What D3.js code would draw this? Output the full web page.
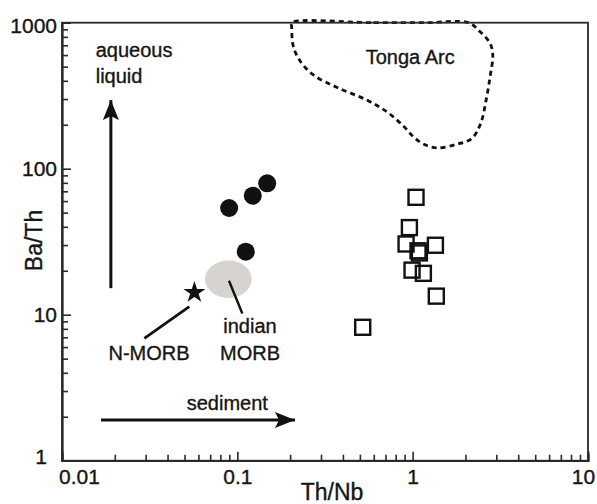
<!DOCTYPE html>
<html>
<head>
<meta charset="utf-8">
<script src="https://cdn.jsdelivr.net/npm/d3@7"></script>
<style>
  html, body { margin: 0; padding: 0; background: #fff; }
  svg { display: block; font-family: "Liberation Sans", Arial, Helvetica, sans-serif; }
  svg text { stroke: #151515; stroke-width: 0.35px; }
</style>
</head>
<body>
<svg id="chart" width="597" height="504"></svg>
<script>
// ---------- data ----------
const xTickValues = [0.01, 0.1, 1, 10];
const xTickLabels = ["0.01", "0.1", "1", "10"];
const yTickValues = [1, 10, 100, 1000];
const yTickLabels = ["1", "10", "100", "1000"];

// filled circles (samples)
const circleThNb = [0.0898, 0.1225, 0.148, 0.1117];
const circleBaTh = [53.8, 65.3, 79.4, 27.0];

// open squares (samples)
const squareThNb = [1.045, 0.958, 0.917, 1.073, 1.092, 1.348, 0.992, 1.151, 1.364, 0.519];
const squareBaTh = [63.7, 39.5, 30.5, 27.4, 26.5, 29.9, 20.2, 19.2, 13.4, 8.2];

// N-MORB star and Indian MORB field centre
const nMorb = { thNb: 0.0569, baTh: 14.2 };
const indianMorb = { thNb: 0.0889, baTh: 17.5 };

// Tonga Arc field outline
const tongaThNb = [0.204, 0.6, 1.2, 2.078, 2.424, 2.764, 2.864, 2.764, 2.623, 2.446, 2.173, 1.785, 1.373, 1.151, 1.009, 0.885, 0.7115, 0.547, 0.369, 0.2714, 0.228, 0.2087, 0.204];
const tongaBaTh = [1000, 1000, 1000, 1000, 867, 722, 601, 426, 295, 205, 161, 147, 139, 147.5, 165.6, 196, 245.7, 295.4, 361, 438.5, 547, 685, 939];

// ---------- layout ----------
const svg = d3.select("#chart");
const pLeft = 62, pRight = 588, pTop = 22.7, pBottom = 460.7;

const x = d3.scaleLog().domain([0.01, 10]).range([pLeft, pRight]);
const y = d3.scaleLog().domain([1, 1000]).range([pBottom, pTop]);

const axisColor = "#2a2a2a";
const textColor = "#151515";

// ---------- Tonga Arc field ----------
const tongaPts = tongaThNb.map((v, i) => [x(v), y(tongaBaTh[i])]);
svg.append("path")
  .attr("d", d3.line().curve(d3.curveCatmullRomClosed.alpha(0.5))(tongaPts))
  .attr("fill", "none")
  .attr("stroke", "#111")
  .attr("stroke-width", 2.8)
  .attr("stroke-dasharray", "5,4");

// ---------- frame ----------
svg.append("rect")
  .attr("x", pLeft).attr("y", pTop)
  .attr("width", pRight - pLeft).attr("height", pBottom - pTop)
  .attr("fill", "none").attr("stroke", axisColor).attr("stroke-width", 1.8);

// ---------- axes ----------
function styleAxis(g) {
  g.select(".domain").attr("stroke", axisColor).attr("stroke-width", 1.8);
  g.selectAll(".tick line").attr("stroke", axisColor).attr("stroke-width", 1.6);
  g.selectAll(".tick text").attr("fill", textColor).attr("font-size", 21).attr("font-family", null);
}

const xMinor = x.ticks().filter(v => !xTickValues.includes(v));
const yMinor = y.ticks().filter(v => !yTickValues.includes(v));

svg.append("g").attr("transform", `translate(0,${pBottom})`)
  .call(d3.axisBottom(x).tickValues(xMinor).tickSize(-6).tickFormat(""))
  .call(styleAxis);
svg.append("g").attr("transform", `translate(${pLeft},0)`)
  .call(d3.axisLeft(y).tickValues(yMinor).tickSize(-6).tickFormat(""))
  .call(styleAxis);

const gx = svg.append("g").attr("transform", `translate(0,${pBottom})`)
  .call(d3.axisBottom(x).tickValues(xTickValues).tickSize(-9).tickPadding(8)
    .tickFormat((d, i) => xTickLabels[i]))
  .call(styleAxis);
gx.selectAll(".tick text").attr("dx", d => d === 0.01 ? 17 : d === 10 ? -5 : 0);

const gy = svg.append("g").attr("transform", `translate(${pLeft},0)`)
  .call(d3.axisLeft(y).tickValues(yTickValues).tickSize(-9).tickPadding(5)
    .tickFormat((d, i) => yTickLabels[i]))
  .call(styleAxis);
gy.selectAll(".tick text")
  .attr("dx", d => d === 1 ? -10 : 0)
  .attr("y", d => d === 1 ? -4 : d === 1000 ? 3 : 0);

// axis titles
svg.append("text")
  .attr("x", 332).attr("y", 500)
  .attr("text-anchor", "middle").attr("font-size", 23).attr("fill", textColor)
  .text("Th/Nb");
svg.append("text")
  .attr("transform", `translate(41.5,240.5) rotate(-90)`)
  .attr("text-anchor", "middle").attr("font-size", 23).attr("fill", textColor)
  .text("Ba/Th");

// ---------- arrow marker ----------
const defs = svg.append("defs");
defs.append("marker")
  .attr("id", "arrow").attr("viewBox", "0 0 20 16")
  .attr("refX", 20).attr("refY", 8)
  .attr("markerWidth", 20).attr("markerHeight", 16)
  .attr("markerUnits", "userSpaceOnUse")
  .attr("orient", "auto")
  .append("path").attr("d", "M0,0 L20,8 L0,16 L4,8 Z").attr("fill", "#111");

// aqueous liquid arrow (vertical)
svg.append("line")
  .attr("x1", x(0.019)).attr("y1", y(15.2))
  .attr("x2", x(0.019)).attr("y2", y(295))
  .attr("stroke", "#111").attr("stroke-width", 3)
  .attr("marker-end", "url(#arrow)");
// sediment arrow (horizontal)
svg.append("line")
  .attr("x1", x(0.0167)).attr("y1", y(1.9))
  .attr("x2", x(0.2133)).attr("y2", y(1.9))
  .attr("stroke", "#111").attr("stroke-width", 3)
  .attr("marker-end", "url(#arrow)");

// ---------- Indian MORB field ----------
svg.append("ellipse")
  .attr("cx", x(indianMorb.thNb)).attr("cy", y(indianMorb.baTh))
  .attr("rx", 23.3).attr("ry", 18.7)
  .attr("fill", "#d6d3d0");

// ---------- leaders ----------
svg.append("line")
  .attr("x1", x(0.0532)).attr("y1", y(11.34))
  .attr("x2", x(0.02948)).attr("y2", y(6.89))
  .attr("stroke", "#111").attr("stroke-width", 2.8);
svg.append("line")
  .attr("x1", x(0.0896)).attr("y1", y(17.1))
  .attr("x2", x(0.1068)).attr("y2", y(10.2))
  .attr("stroke", "#111").attr("stroke-width", 2.4);

// ---------- N-MORB star ----------
svg.append("path")
  .attr("d", d3.symbol().type(d3.symbolStar).size(150)())
  .attr("transform", `translate(${x(nMorb.thNb)},${y(nMorb.baTh)})`)
  .attr("fill", "#111");

// ---------- samples ----------
svg.append("g").selectAll("circle")
  .data(circleThNb.map((v, i) => [v, circleBaTh[i]]))
  .join("circle")
  .attr("cx", d => x(d[0])).attr("cy", d => y(d[1]))
  .attr("r", 9).attr("fill", "#111");

const side = 15;
svg.append("g").selectAll("rect")
  .data(squareThNb.map((v, i) => [v, squareBaTh[i]]))
  .join("rect")
  .attr("x", d => x(d[0]) - side / 2).attr("y", d => y(d[1]) - side / 2)
  .attr("width", side).attr("height", side)
  .attr("fill", "none").attr("stroke", "#111").attr("stroke-width", 2.4);

// ---------- annotation texts ----------
const ann = [
  { t: "aqueous", px: 0.01557, py: 585, a: "start" },
  { t: "liquid", px: 0.01557, py: 388, a: "start" },
  { t: "Tonga Arc", px: 0.540, py: 521, a: "start" },
  { t: "sediment", px: 0.05143, py: 2.225, a: "start" },
  { t: "N-MORB", px: 0.03135, py: 4.894, a: "middle" },
  { t: "indian", px: 0.1181, py: 7.53, a: "middle" },
  { t: "MORB", px: 0.1181, py: 4.894, a: "middle" }
];
svg.append("g").selectAll("text")
  .data(ann).join("text")
  .attr("x", d => x(d.px)).attr("y", d => y(d.py))
  .attr("text-anchor", d => d.a)
  .attr("font-size", 20).attr("fill", textColor)
  .text(d => d.t);
</script>
</body>
</html>
